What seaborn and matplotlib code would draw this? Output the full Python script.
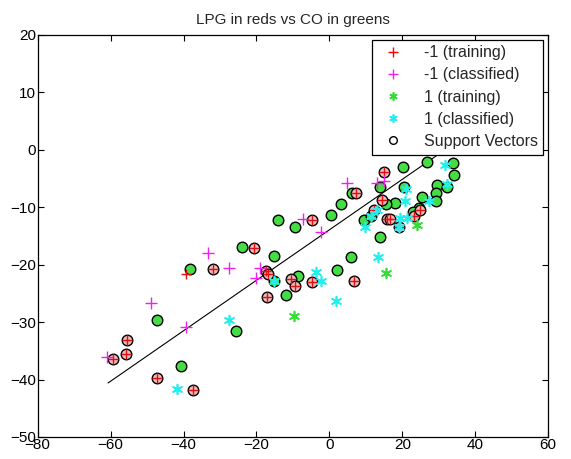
import matplotlib
matplotlib.use("Agg")
import matplotlib.pyplot as plt
from matplotlib.lines import Line2D
import seaborn as sns
import numpy as np

# ---- data ----
red_sv_x = [-59.3, -55.4, -55.7, -47.4, -37.4, -31.9, -20.7, -17.4, -16.8, -17.1, -10.5, -9.3,
            -4.7, 6.7, -4.7, 7.4, 12.2, 15.0, 14.4, 15.8, 16.5, 23.1, 24.8, 19.0]
red_sv_y = [-36.5, -33.2, -35.5, -39.8, -41.8, -20.7, -17.1, -21.1, -21.7, -25.6, -22.5, -23.8,
            -23.0, -22.8, -12.3, -7.6, -10.5, -3.8, -8.7, -12.1, -12.1, -11.5, -10.5, -13.5]
red_other_x = [-39.2]
red_other_y = [-21.7]

green_sv_x = [-24.1, -38.1, -47.4, -25.6, -40.8, -14.1, -15.1, -15.2, -11.8, -8.7, 2.1, 5.8,
              -9.3, 0.5, 3.3, 6.2, 20.1, 26.7, 34.0, 34.2, 29.6, 32.2, 29.2, 29.2, 25.3, 24.7,
              20.5, 13.8, 18.0, 15.6, 9.4, 11.4, 13.8, 22.8]
green_sv_y = [-17.0, -20.8, -29.7, -31.6, -37.6, -12.3, -18.5, -22.8, -25.3, -22.0, -20.9, -18.7,
              -13.4, -11.3, -9.4, -7.6, -3.0, -2.1, -2.3, -4.4, -6.1, -6.4, -7.6, -9.0, -8.3, -10.2,
              -6.5, -6.5, -9.3, -9.4, -12.2, -11.5, -15.1, -10.8]
green_other_x = [-9.6, 24.0, 15.4]
green_other_y = [-29.0, -13.1, -21.5]

magenta_x = [-33.2, -27.4, -20.1, -48.8, -39.2, -61.1, -19.1, -7.3, -2.3, 4.7, 13.0, 14.9]
magenta_y = [-17.9, -20.6, -22.4, -26.6, -30.9, -36.1, -20.6, -12.1, -14.4, -5.7, -5.7, -5.5]

cyan_x = [-27.4, -41.9, -15.2, -3.8, -2.3, 1.8, 9.8, 11.4, 13.3, 19.0, 19.4, 21.2, 20.8, 21.0,
          27.2, 31.7, 32.2, 13.0]
cyan_y = [-29.6, -41.6, -22.8, -21.2, -22.8, -26.4, -13.5, -11.6, -18.6, -13.5, -11.9, -11.9,
          -8.9, -6.9, -9.0, -2.6, -5.9, -10.5]

boundary_x = [-60.7, 34.0]
boundary_y = [-40.6, 1.0]

title = "LPG in reds vs CO in greens"
legend_labels = ["-1 (training)", "-1 (classified)", "1 (training)", "1 (classified)", "Support Vectors"]
xticks = [-80, -60, -40, -20, 0, 20, 40, 60]
yticks = [-50, -40, -30, -20, -10, 0, 10, 20]

# ---- style ----
sns.set_style("ticks")
plt.rcParams["font.family"] = ["Liberation Sans", "DejaVu Sans"]

fig = plt.figure(figsize=(5.71, 4.59), dpi=100)
ax = fig.add_axes([0.066, 0.048, 0.894, 0.876])

ast = (6, 2, 0)
RED, MAG, GRN, CYN = "#ff0000", "#ee22ee", "#33dd33", "#22eeee"

# boundary line
sns.lineplot(x=boundary_x, y=boundary_y, ax=ax, color="black", linewidth=0.8, zorder=2)

# support vector discs
sns.scatterplot(x=green_sv_x, y=green_sv_y, ax=ax, marker="o", s=58, color="#44dd44",
                edgecolor="black", linewidth=1.0, zorder=3)
sns.scatterplot(x=red_sv_x, y=red_sv_y, ax=ax, marker="o", s=58, color="#ecbcbc",
                edgecolor="black", linewidth=1.0, zorder=3)

# training points
sns.scatterplot(x=red_sv_x + red_other_x, y=red_sv_y + red_other_y, ax=ax, marker="+", s=50,
                color="#dd1111", linewidth=1.0, zorder=4)
sns.scatterplot(x=green_other_x, y=green_other_y, ax=ax, marker=ast, s=50,
                color=GRN, edgecolor=GRN, linewidth=1.2, zorder=4)
# classified points
sns.scatterplot(x=magenta_x, y=magenta_y, ax=ax, marker="+", s=80,
                color=MAG, linewidth=1.0, zorder=4)
sns.scatterplot(x=cyan_x, y=cyan_y, ax=ax, marker=ast, s=50,
                color=CYN, edgecolor=CYN, linewidth=1.2, zorder=4)

ax.set_xlim(-80, 60)
ax.set_ylim(-50, 20)
ax.set_xticks(xticks)
ax.set_yticks(yticks)
ax.tick_params(direction="in", top=True, right=True, length=4, width=0.8,
               labelsize=11, colors="black", pad=1)
for sp in ax.spines.values():
    sp.set_visible(True)
    sp.set_linewidth(0.9)
    sp.set_color("black")
ax.set_xlabel("")
ax.set_ylabel("")
ax.set_title(title, fontsize=11, pad=8)

handles = [
    Line2D([], [], linestyle="none", marker="+", color=RED, markersize=7, markeredgewidth=1.0),
    Line2D([], [], linestyle="none", marker="+", color=MAG, markersize=7, markeredgewidth=1.0),
    Line2D([], [], linestyle="none", marker=ast, color=GRN, markersize=6, markeredgewidth=1.2),
    Line2D([], [], linestyle="none", marker=ast, color=CYN, markersize=6, markeredgewidth=1.2),
    Line2D([], [], linestyle="none", marker="o", markerfacecolor="none", markeredgecolor="black",
           markersize=5.5, markeredgewidth=1.0),
]
leg = ax.legend(handles, legend_labels, loc="upper right", fontsize=11.5, frameon=True,
                fancybox=False, framealpha=1, edgecolor="black", borderpad=0.35,
                labelspacing=0.45, handletextpad=0.9, borderaxespad=0.3)
leg.get_frame().set_linewidth(0.9)
leg.set_zorder(10)

fig.savefig("out.png", dpi=100, facecolor="white")
